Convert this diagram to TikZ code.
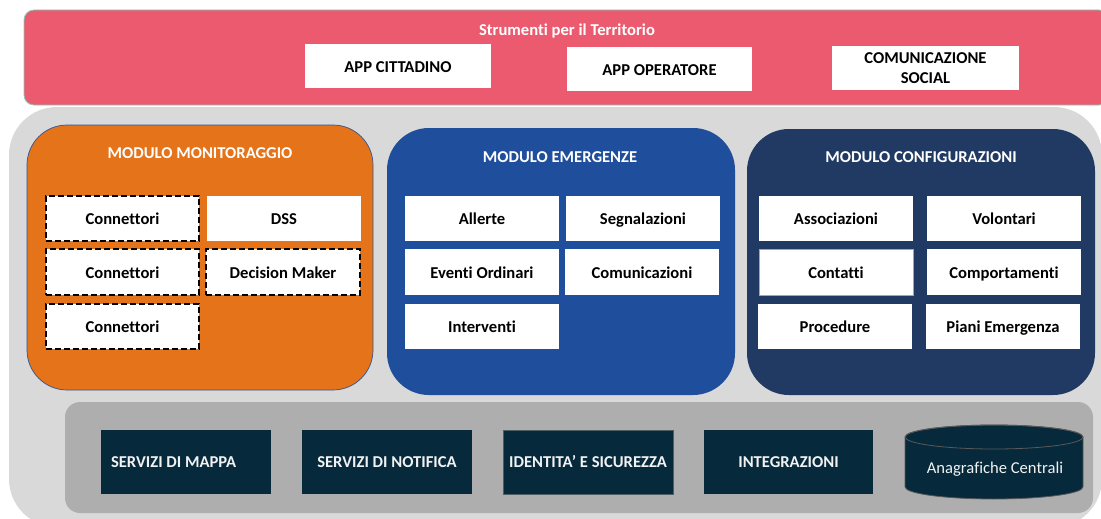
\documentclass[tikz,border=0pt]{standalone}
\usepackage{fontspec}
\setmainfont{Carlito}[Ligatures=NoCommon]
\definecolor{pinkbg}{HTML}{EB5A6E}
\definecolor{pinkline}{HTML}{8CC9B8}
\definecolor{outergray}{HTML}{D9D9D9}
\definecolor{midgray}{HTML}{AEAEAE}
\definecolor{orangeM}{HTML}{E5731A}
\definecolor{blueM}{HTML}{1F4E9C}
\definecolor{navyM}{HTML}{213A64}
\definecolor{darkbox}{HTML}{06293B}
\definecolor{edgeblue}{HTML}{2F5597}
\begin{document}
\begin{tikzpicture}[x=1pt,y=-1pt,
  font=\fontsize{16.6}{19.5}\selectfont\bfseries,
  panel/.style={inner sep=0pt, rounded corners=#1},
  wbox/.style={fill=white, inner sep=0pt, minimum width=154pt, minimum height=45pt, text=black, text height=12.5pt, text depth=0pt},
  dbox/.style={wbox, draw=black, line width=1.4pt, dash pattern=on 6pt off 3pt},
  title/.style={text=white, inner sep=0pt},
  sbox/.style={fill=darkbox, inner sep=0pt, minimum width=170pt, minimum height=64pt, text=white!95!black, text height=11.5pt, text depth=0pt},
]
\useasboundingbox (0,0) rectangle (1101,519);
\clip (0,0) rectangle (1101,519);

% top banner
\node[panel=10pt, fill=pinkbg, draw=pinkline, line width=0.8pt, minimum width=1085pt, minimum height=95pt] (banner) at (566.5,57.5) {};
\node[title] (bannert) at (567,31) {Strumenti per il Territorio};
\node[wbox, minimum width=186pt, minimum height=44pt] (appc) at (398,66) {APP CITTADINO};
\node[wbox, minimum width=185pt, minimum height=44pt] (appo) at (659.5,69) {APP OPERATORE};
\node[wbox, minimum width=187pt, minimum height=44pt, align=center, text height=, text depth=] (social) at (925.5,68) {COMUNICAZIONE\\SOCIAL};

% outer gray area
\node[panel=48pt, fill=outergray, minimum width=1093pt, minimum height=420pt] (outer) at (555.5,317) {};

% modulo monitoraggio
\node[panel=40pt, fill=orangeM, draw=edgeblue, line width=0.7pt, minimum width=346pt, minimum height=265pt] (mon) at (200,257.5) {};
\node[title] (mont) at (200,153) {MODULO MONITORAGGIO};
\node[dbox, minimum width=153pt] (c1) at (122.5,218.5) {Connettori};
\node[wbox] (dss) at (284,218.5) {DSS};
\node[dbox, minimum width=153pt, minimum height=46pt] (c2) at (122.5,272) {Connettori};
\node[dbox, minimum height=46pt] (dm) at (283,272) {Decision Maker};
\node[dbox, minimum width=153pt] (c3) at (122.5,326.5) {Connettori};

% modulo emergenze
\node[panel=42pt, fill=blueM, minimum width=348pt, minimum height=267pt] (eme) at (561,261.5) {};
\node[title] (emet) at (560,157) {MODULO EMERGENZE};
\node[wbox] (all) at (482,218.5) {Allerte};
\node[wbox] (seg) at (643,218.5) {Segnalazioni};
\node[wbox, minimum height=46pt] (eve) at (482,272) {Eventi Ordinari};
\node[wbox, minimum height=46pt] (com) at (642,272) {Comunicazioni};
\node[wbox] (int) at (482,326.5) {Interventi};

% modulo configurazioni
\node[panel=42pt, fill=navyM, minimum width=348pt, minimum height=266pt] (conf) at (921,262) {};
\node[title] (conft) at (921,157) {MODULO CONFIGURAZIONI};
\node[wbox] (ass) at (836,218.5) {Associazioni};
\node[wbox] (vol) at (1004,218.5) {Volontari};
\node[wbox, minimum height=46pt, draw=gray!70, line width=0.6pt] (cont) at (836,272) {Contatti};
\node[wbox, minimum height=46pt] (comp) at (1004,272) {Comportamenti};
\node[wbox] (proc) at (835,326.5) {Procedure};
\node[wbox] (piani) at (1003,326.5) {Piani Emergenza};

% services panel
\node[panel=15pt, fill=midgray, minimum width=1028pt, minimum height=111pt] (serv) at (579,457.5) {};
\node[sbox] (map) at (186,462) {};
\node[text=white!95!black, inner sep=0pt, anchor=west, text height=11.5pt, text depth=0pt] (mapt) at ([xshift=10pt]map.west) {SERVIZI DI MAPPA};
\node[sbox] (not) at (387,462) {SERVIZI DI NOTIFICA};
\node[sbox, draw=gray!60!darkbox, line width=0.6pt] (ids) at (588,462) {IDENTITA’ E SICUREZZA};
\node[sbox, minimum width=169pt] (intg) at (788.5,462) {INTEGRAZIONI};

% cylinder
\fill[darkbox, draw=gray!70!black, line width=0.8pt]
  (905,437) -- (905,487) arc[start angle=180, end angle=0, x radius=89, y radius=12]
  -- (1083,437) arc[start angle=0, end angle=-180, x radius=89, y radius=12] -- cycle;
\draw[gray!70!black, line width=0.8pt] (994,437) ellipse[x radius=89, y radius=12];
\node[text=white!95!black, font=\fontsize{16.6}{19.5}\selectfont, inner sep=0pt] (anag) at (995,469) {Anagrafiche Centrali};
\end{tikzpicture}
\end{document}
